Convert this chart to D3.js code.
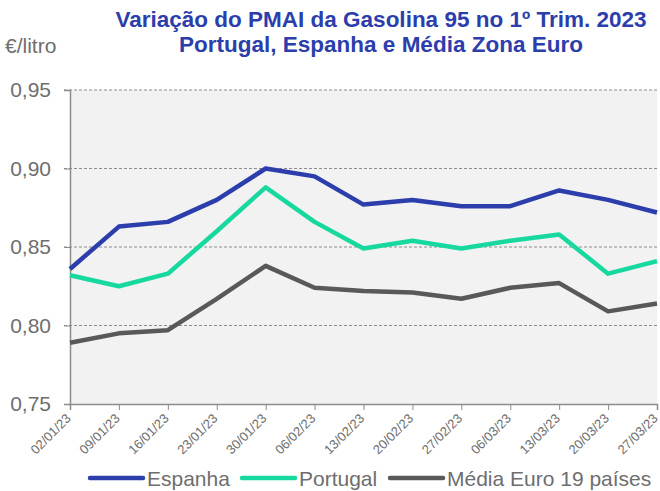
<!DOCTYPE html>
<html>
<head>
<meta charset="utf-8">
<script src="https://cdn.jsdelivr.net/npm/d3@7"></script>
<style>
  body { margin: 0; background: #fff; }
  svg { display: block; font-family: "Liberation Sans", Arial, sans-serif; }
</style>
</head>
<body>
<script>
const dates = ['02/01/23','09/01/23','16/01/23','23/01/23','30/01/23','06/02/23','13/02/23',
               '20/02/23','27/02/23','06/03/23','13/03/23','20/03/23','27/03/23']
const espanha  = [0.836, 0.863, 0.866, 0.880, 0.900, 0.895, 0.877, 0.880, 0.876, 0.876, 0.886, 0.880, 0.872]
const portugal = [0.832, 0.825, 0.833, 0.860, 0.888, 0.866, 0.849, 0.854, 0.849, 0.854, 0.858, 0.833, 0.841]
const mediaEuro = [0.789, 0.795, 0.797, 0.817, 0.838, 0.824, 0.822, 0.821, 0.817, 0.824, 0.827, 0.809, 0.814]
const yTicks = [0.75, 0.80, 0.85, 0.90, 0.95]

const series = [
  {name: 'Espanha', values: espanha, color: '#2b3eab'},
  {name: 'Portugal', values: portugal, color: '#17d9a0'},
  {name: 'Média Euro 19 países', values: mediaEuro, color: '#595959'}
]

const w = 660
const h = 491
const m = {left: 70, right: 3, top: 90, bottom: 87}

const svg = d3.select('body')
              .append('svg')
              .attr('width', w)
              .attr('height', h)

const xScale = d3.scalePoint()
                 .domain(dates)
                 .range([m.left, w - m.right])

const yScale = d3.scaleLinear()
                 .domain([0.75, 0.95])
                 .range([h - m.bottom, m.top])

// plot background
svg.append('rect')
   .attr('x', m.left)
   .attr('y', m.top)
   .attr('width', w - m.right - m.left)
   .attr('height', h - m.bottom - m.top)
   .attr('fill', '#f2f2f2')

// gridlines
svg.selectAll('.grid')
   .data(yTicks.slice(1))
   .enter()
   .append('line')
   .attr('class', 'grid')
   .attr('x1', m.left - 6)
   .attr('x2', w - m.right)
   .attr('y1', d => yScale(d))
   .attr('y2', d => yScale(d))
   .attr('stroke', '#8c8c8c')
   .attr('stroke-width', 1)
   .attr('stroke-dasharray', '3,2')

const yAxis = d3.axisLeft(yScale)
                .tickValues(yTicks)
                .tickSize(6)
                .tickPadding(13)
                .tickFormat(d => d3.format('.2f')(d).replace('.', ','))

const xAxis = d3.axisBottom(xScale)
                .tickSize(6)

const gy = svg.append('g')
   .attr('class', 'y-axis')
   .attr('transform', 'translate(' + m.left + ',0)')
   .call(yAxis)
gy.select('.domain').attr('stroke', '#8c8c8c').attr('stroke-width', 1.5)
gy.selectAll('line').attr('stroke', '#8c8c8c')
gy.selectAll('text')
  .attr('fill', '#6e6e6e')
  .style('font-size', '21px')
  .style('font-family', '"Liberation Sans", Arial, sans-serif')

const gx = svg.append('g')
   .attr('class', 'x-axis')
   .attr('transform', 'translate(0,' + (h - m.bottom) + ')')
   .call(xAxis)
gx.select('.domain').attr('stroke', '#8c8c8c').attr('stroke-width', 1.5)
gx.selectAll('line').attr('stroke', '#8c8c8c')
gx.selectAll('text')
  .attr('fill', '#6e6e6e')
  .style('font-size', '13px')
  .style('font-family', '"Liberation Sans", Arial, sans-serif')
  .attr('text-anchor', 'end')
  .attr('x', 0)
  .attr('y', 0)
  .attr('dy', '0.35em')
  .attr('transform', 'translate(-2,12) rotate(-45)')

// lines
const line = d3.line()
               .x((d, i) => xScale(dates[i]))
               .y(d => yScale(d))

svg.selectAll('.series')
   .data(series)
   .enter()
   .append('path')
   .attr('class', 'series')
   .attr('d', d => line(d.values))
   .attr('fill', 'none')
   .attr('stroke', d => d.color)
   .attr('stroke-width', 4.5)
   .attr('stroke-linejoin', 'round')

// title
const title = svg.append('text')
   .attr('x', 381)
   .attr('y', 27)
   .attr('text-anchor', 'middle')
   .attr('fill', '#2b3eab')
   .style('font-weight', 'bold')
   .style('font-size', '22.5px')
title.append('tspan').attr('x', 381).text('Variação do PMAI da Gasolina 95 no 1º Trim. 2023')
title.append('tspan').attr('x', 381).attr('dy', 25).text('Portugal, Espanha e Média Zona Euro')

svg.append('text')
   .attr('x', 5)
   .attr('y', 53)
   .attr('fill', '#6e6e6e')
   .style('font-size', '21px')
   .text('€/litro')

// legend
const legendX = [90, 242, 390]
const legend = svg.selectAll('.legend')
   .data(series)
   .enter()
   .append('g')
   .attr('class', 'legend')
   .attr('transform', (d, i) => 'translate(' + legendX[i] + ',478)')
legend.append('line')
   .attr('x1', 0).attr('x2', 53)
   .attr('stroke', d => d.color)
   .attr('stroke-width', 4.5)
   .attr('stroke-linecap', 'round')
legend.append('text')
   .attr('x', 57)
   .attr('dy', '0.36em')
   .attr('fill', '#6e6e6e')
   .style('font-size', '21px')
   .text(d => d.name)
</script>
</body>
</html>
